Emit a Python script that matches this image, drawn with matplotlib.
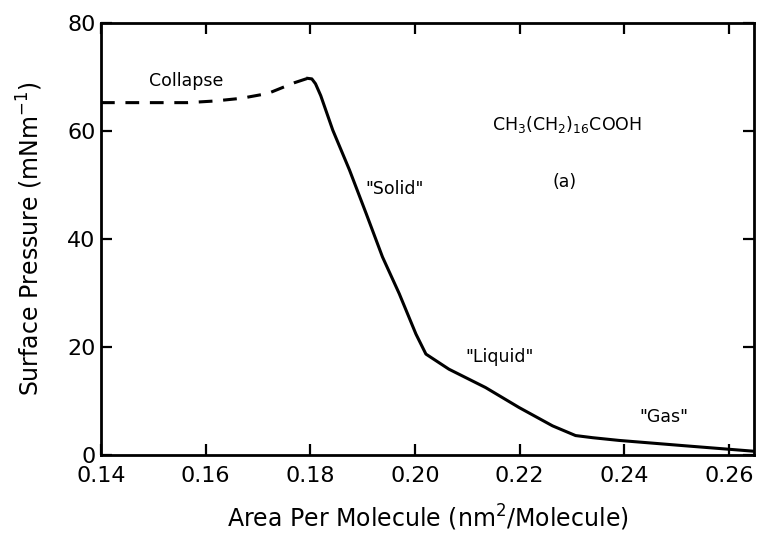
import matplotlib
matplotlib.use("Agg")
import matplotlib.pyplot as plt
from matplotlib import font_manager

# --- data ---
collapse_x = [0.140, 0.1452, 0.1566, 0.1617, 0.1668, 0.1719, 0.1770, 0.1795]
collapse_y = [65.3, 65.3, 65.3, 65.6, 66.1, 67.0, 69.0, 69.8]

iso_x = [0.1795, 0.1803, 0.1810, 0.1820, 0.1843, 0.1875, 0.1907, 0.1938, 0.1970, 0.2002,
         0.2021, 0.2065, 0.2135, 0.2199, 0.2263, 0.2307, 0.2340, 0.2390, 0.2517, 0.2647]
iso_y = [69.8, 69.7, 68.8, 66.6, 60.2, 52.8, 44.7, 36.7, 29.9, 22.4,
         18.7, 15.9, 12.5, 8.8, 5.4, 3.6, 3.2, 2.7, 1.7, 0.7]

x_ticks = [0.14, 0.16, 0.18, 0.20, 0.22, 0.24, 0.26]
x_ticklabels = ["0.14", "0.16", "0.18", "0.20", "0.22", "0.24", "0.26"]
y_ticks = [0, 20, 40, 60, 80]

labels = ["Collapse", '"Solid"', '"Liquid"', '"Gas"', "(a)",
          r"CH$_3$(CH$_2$)$_{16}$COOH"]
label_x = [0.1563, 0.1961, 0.2161, 0.2476, 0.2286, 0.2290]
label_y = [69.3, 49.3, 18.2, 7.1, 50.6, 61.3]

names = {f.name for f in font_manager.fontManager.ttflist}
fam = "Liberation Sans Narrow" if "Liberation Sans Narrow" in names else "DejaVu Sans"
plt.rcParams['font.family'] = [fam, 'DejaVu Sans']
plt.rcParams['mathtext.fontset'] = 'custom'
plt.rcParams['mathtext.rm'] = fam
plt.rcParams['mathtext.it'] = fam

fig = plt.figure(figsize=(7.57, 5.46), dpi=100)
ax = fig.add_axes([0.1334, 0.1667, 0.996 - 0.1334, 0.9573 - 0.1667])

ax.plot(collapse_x, collapse_y, color='black', lw=2.2, ls=(0, (4.5, 3.5)))
ax.plot(iso_x, iso_y, color='black', lw=2.2, solid_joinstyle='round')

ax.set_xlim(0.14, 0.2648)
ax.set_ylim(0, 80)
ax.set_xticks(x_ticks)
ax.set_xticklabels(x_ticklabels)
ax.set_yticks(y_ticks)
ax.tick_params(direction='in', length=8, width=1.6, top=True, right=True,
               labelsize=16)
ax.tick_params(axis='x', pad=8)
ax.tick_params(axis='y', pad=4)
for s in ax.spines.values():
    s.set_linewidth(2.0)

ax.set_xlabel(r"Area Per Molecule (nm$^2$/Molecule)", fontsize=17, labelpad=12)
ax.set_ylabel(r"Surface Pressure (mNm$^{-1}$)", fontsize=17, labelpad=16)

for t, xx, yy in zip(labels, label_x, label_y):
    ax.text(xx, yy, t, ha='center', va='center', fontsize=12.5)

fig.savefig("out.png", dpi=100)
